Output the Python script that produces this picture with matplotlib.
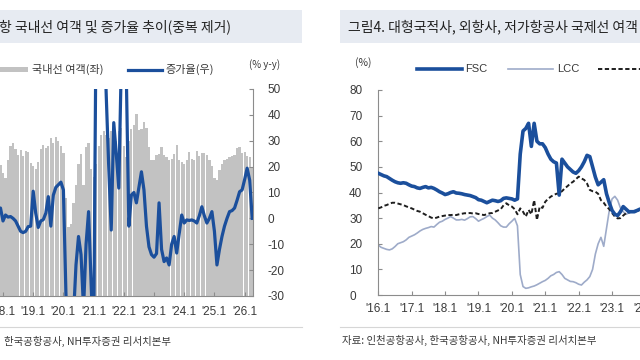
import matplotlib
matplotlib.use('Agg')
import matplotlib.pyplot as plt
from matplotlib import font_manager
from matplotlib.lines import Line2D
from matplotlib.patches import Rectangle

W, H = 640, 360
plt.rcParams['font.family'] = ['Noto Sans CJK KR', 'DejaVu Sans']
_names = {f.name for f in font_manager.fontManager.ttflist}
NUM_FONT = ['Liberation Sans Narrow'] if 'Liberation Sans Narrow' in _names else ['Liberation Sans']

# ---------------- left panel data (month index: 0 = 2018-01) ----------------
dom_months = list(range(-4, 100))
dom_pax = [262, 275, 268, 253,
           238, 228, 262, 290, 296, 285, 272, 282, 270, 280, 278, 257,
           252, 245, 258, 284, 292, 286, 290, 305, 296, 307, 300, 290,
           276, 190, 133, 140, 180, 215, 255, 275, 215, 288, 296, 245,
           230, 255, 290, 311, 318, 312, 305, 318, 322, 300, 318, 325,
           290, 268, 300, 322, 330, 352, 320, 322, 336, 325, 288, 263,
           262, 272, 275, 288, 272, 268, 262, 265, 275, 292, 262, 258,
           256, 262, 278, 265, 262, 280, 270, 276, 276, 272, 262, 252,
           228, 224, 243, 255, 263, 265, 268, 270, 272, 286, 288, 276,
           278, 270, 268, 250]
dom_growth = [3, 5, 2, 4,
              -1, 1.3, 0.5, 0.7, 0, -1, -3, -5, -5.5, -5, -3.2, -3,
              10.5, 2, -3.5, -1, -0.5, 2, 8.4, -3, 9, 12, 13, 14,
              11, -29, -57, -50, -38, -18, -7, -14, -35, -10, 2.6, -25,
              -50, 80, 95, 100, 80, 48, 20, -4.5, 37, 25, 11.7, 60,
              90, 55, -3, 9, 10, 6, 12, 18, 11, -3, -11, -14,
              -15, -13.6, 6, -12, -16.7, -15.3, -18, -10, -7, -13.4, -6, 1.3,
              -1.8, -0.6, -0.8, -0.6, -1, -1.8, 1, 4.5, 1, -1.8, 0, 2.6,
              -5, -18, -12, -7, -3, 0, 2.6, 3, 4, 7, 10.3, 11,
              15, 19.4, 14.8, 0]
left_tick_pos = [0, 12, 24, 36, 48, 60, 72, 84, 96]
left_tick_labels = ["'18.1", "'19.1", "'20.1", "'21.1", "'22.1", "'23.1", "'24.1", "'25.1", "'26.1"]
growth_ticks = [-30, -20, -10, 0, 10, 20, 30, 40, 50]

# ---------------- right panel data (month index: 0 = 2016-01) ----------------
share_months = list(range(0, 96))
fsc = [47.5, 47, 46.5, 46.2, 45.5, 44.8, 44.2, 43.8, 43.6, 43.8,
       43.6, 43, 42.5, 42.3, 41.8, 41.6, 42, 42.3, 41.8, 42,
       41.6, 41, 40.3, 39.8, 39.2, 39.5, 40, 40.3, 39.8, 39.7,
       39.5, 39.2, 39, 38.8, 38.4, 38, 37.2, 37, 36.5, 36,
       36.5, 37, 36.8, 36.5, 36.8, 37.7, 37.9, 37.7, 37.5, 37,
       37.5, 55, 64, 65, 67, 58, 67, 60, 59, 59,
       57.5, 55, 53, 52, 51.5, 39, 53, 51.5, 50, 49,
       48, 47.5, 48.5, 50, 52, 54.5, 54, 50, 46, 43,
       44, 45, 39.5, 36, 33, 31.5, 31, 32.5, 34.5, 33.5,
       32.5, 32.5, 32.5, 33, 33.5, 33.5]
lcc = [19.5, 18.6, 18.2, 17.8, 17.6, 18, 18.9, 20, 20.4, 20.8,
       21.5, 22.5, 23, 23.5, 24.2, 25, 25.6, 26, 26.3, 26.7,
       26.5, 27.5, 28.4, 28.8, 29.5, 30, 30.6, 30, 29.3, 29.3,
       29.5, 29.2, 29.8, 30.5, 30.6, 29.8, 28.8, 29.4, 29.9, 30.6,
       31.2, 30, 29.3, 28.2, 27, 26.5, 26.5, 27.8, 28.8, 29.9,
       27, 8, 3.3, 2.6, 2.8, 3.2, 3.5, 4, 4.6, 5.2,
       5.7, 6.5, 7.5, 8, 8.8, 9.1, 8, 6.5, 5.9, 5.3,
       5.2, 4.8, 4.2, 3.9, 5, 5.9, 7.2, 10, 16, 20,
       22.5, 19, 26, 33, 37.5, 38.5, 37, 34, 32.5, 31.5,
       32, 32.5, 33, 33.2, 33.2, 33]
foreign = [33.8, 34.2, 34.8, 35.1, 35.6, 36, 36, 35.7, 35.4, 35.1,
           34.6, 34.2, 33.8, 33.3, 32.8, 32.5, 31.9, 31.3, 30.8, 30.2,
           29.9, 30.2, 30.6, 30.8, 31, 31.2, 31.2, 31.3, 31.2, 31.5,
           31.7, 31.9, 31.9, 32, 31.8, 31.9, 31.6, 31.4, 31.2, 31.5,
           31.9, 32, 32.5, 33, 33.5, 35, 35.8, 35, 34.5, 33.5,
           31.5, 33.8, 32.5, 30.6, 33.2, 31.5, 37, 29.3, 34.5, 34,
           36.4, 37.5, 38.4, 39, 39.5, 39.7, 40.5, 41.6, 42.5, 43.5,
           44.2, 45.2, 46.2, 45.5, 44.9, 43.5, 41, 40.5, 40.3, 39.5,
           37, 36, 34.5, 33.5, 32, 30.6, 29.9, 30, 31, 31.9,
           32.2, 32.5, 32.5, 32.8, 33.2, 33.2]
right_tick_pos = [0, 12, 24, 36, 48, 60, 72, 84, 96]
right_tick_labels = ["'16.1", "'17.1", "'18.1", "'19.1", "'20.1", "'21.1", "'22.1", "'23.1", "'24.1"]
share_ticks = [0, 10, 20, 30, 40, 50, 60, 70, 80]

# ---------------- styles ----------------
BLUE = '#1b4f9c'
LCC_C = '#9eabc9'
BAR_C = '#c2c2c2'
SPINE = '#8c8c8c'
TXT = '#3a3a3a'
BAND = '#e7ebf2'

fig = plt.figure(figsize=(6.4, 3.6), dpi=100)
fig.patch.set_facecolor('white')


def fx(x):
    return x / W


def fy(y):
    return 1 - y / H


# title bands
fig.add_artist(Rectangle((fx(-5), fy(43)), fx(307), 33 / H, transform=fig.transFigure,
                         facecolor=BAND, edgecolor='none', zorder=0))
fig.add_artist(Rectangle((fx(340), fy(43)), fx(310), 33 / H, transform=fig.transFigure,
                         facecolor=BAND, edgecolor='none', zorder=0))
fig.text(fx(-1), fy(27), '항 국내선 여객 및 증가율 추이(중복 제거)', fontsize=10,
         ha='left', va='center', color='#222222')
fig.text(fx(348), fy(27), '그림4. 대형국적사, 외항사, 저가항공사 국제선 여객 점유율 추이', fontsize=10,
         ha='left', va='center', color='#222222')

# footer lines and sources
fig.add_artist(Line2D([fx(-5), fx(302)], [fy(327), fy(327)], transform=fig.transFigure,
                      color='#d6d6d6', lw=0.8))
fig.add_artist(Line2D([fx(340), fx(645)], [fy(327), fy(327)], transform=fig.transFigure,
                      color='#d6d6d6', lw=0.8))
fig.text(fx(4), fy(341), '한국공항공사, NH투자증권 리서치본부', fontsize=7.5, ha='left', va='center', color=TXT)
fig.text(fx(342), fy(340), '자료: 인천공항공사, 한국공항공사, NH투자증권 리서치본부', fontsize=7.5,
         ha='left', va='center', color=TXT)

# ---------------- left panel ----------------
PXM_L = 2.517
X0_L = 3.0
mlo, mhi = -12, 99.5
lx0 = X0_L + PXM_L * mlo
lx1 = X0_L + PXM_L * mhi
axl = fig.add_axes([fx(lx0), fy(296), fx(lx1 - lx0), (296 - 89) / H])
axl.bar(dom_months, dom_pax, width=0.88, color=BAR_C, linewidth=0, zorder=1)
axl.set_xlim(mlo, mhi)
axl.set_ylim(0, 400)
axl.set_yticks([])
for s in ['top', 'left', 'right']:
    axl.spines[s].set_visible(False)
axl.spines['bottom'].set_color(SPINE)
axl.spines['bottom'].set_linewidth(0.8)
axl.set_xticks(left_tick_pos)
axl.set_xticklabels(left_tick_labels, family=NUM_FONT, fontsize=8.5, color=TXT)
axl.tick_params(axis='x', direction='in', length=3, color=SPINE, pad=7)

axr = axl.twinx()
axr.plot(dom_months, dom_growth, color=BLUE, lw=2.3, solid_joinstyle='round', zorder=3)
axr.set_ylim(-30, 50)
axr.set_yticks(growth_ticks)
axr.set_yticklabels([str(t) for t in growth_ticks], family=NUM_FONT, fontsize=8.5, color=TXT)
axr.tick_params(axis='y', direction='in', length=3, color=SPINE, pad=10)
for s in ['top', 'left', 'bottom']:
    axr.spines[s].set_visible(False)
axr.spines['right'].set_color(SPINE)
axr.spines['right'].set_linewidth(0.8)

# left legend
fig.add_artist(Rectangle((fx(-10), fy(72)), fx(38), 5 / H, transform=fig.transFigure,
                         facecolor=BAR_C, edgecolor='none'))
fig.text(fx(32), fy(69.5), '국내선 여객(좌)', fontsize=8, ha='left', va='center', color=TXT)
fig.add_artist(Line2D([fx(128), fx(162)], [fy(69.5), fy(69.5)], transform=fig.transFigure,
                      color=BLUE, lw=2.3))
fig.text(fx(165), fy(69.5), '증가율(우)', fontsize=8, ha='left', va='center', color=TXT)
fig.text(fx(249), fy(65), '(% y-y)', fontsize=7, ha='left', va='center', color=TXT)

# ---------------- right panel ----------------
PXM_R = 2.783
X0_R = 378.3
rhi = 120
axs = fig.add_axes([fx(X0_R), fy(295), fx(PXM_R * rhi), (295 - 90) / H])
axs.plot(share_months, lcc, color=LCC_C, lw=1.2, zorder=2, label='LCC')
axs.plot(share_months, foreign, color='#1e1e1e', lw=1.4, ls=(0, (2.2, 1.3)), zorder=3, label='외항사')
axs.plot(share_months, fsc, color=BLUE, lw=2.6, zorder=4, label='FSC')
axs.set_xlim(0, rhi)
axs.set_ylim(0, 80)
axs.set_yticks(share_ticks)
axs.set_yticklabels([str(t) for t in share_ticks], family=NUM_FONT, fontsize=8.5, color=TXT)
for lab in axs.get_yticklabels():
    lab.set_ha('left')
axs.tick_params(axis='y', direction='in', length=3, color=SPINE, pad=21)
axs.set_xticks(right_tick_pos)
axs.set_xticklabels(right_tick_labels, family=NUM_FONT, fontsize=8.5, color=TXT)
axs.tick_params(axis='x', direction='in', length=3, color=SPINE, pad=6)
for s in ['top', 'right']:
    axs.spines[s].set_visible(False)
for s in ['left', 'bottom']:
    axs.spines[s].set_color(SPINE)
    axs.spines[s].set_linewidth(0.8)

# right legend
fig.text(fx(355), fy(63), '(%)', fontsize=7.5, ha='left', va='center', color=TXT)
fig.add_artist(Line2D([fx(417), fx(462)], [fy(68.5), fy(68.5)], transform=fig.transFigure,
                      color=BLUE, lw=2.6))
fig.text(fx(465), fy(68.5), 'FSC', fontsize=8, ha='left', va='center', color=TXT, family=NUM_FONT)
fig.add_artist(Line2D([fx(508), fx(553)], [fy(68.5), fy(68.5)], transform=fig.transFigure,
                      color=LCC_C, lw=1.2))
fig.text(fx(557), fy(68.5), 'LCC', fontsize=8, ha='left', va='center', color=TXT, family=NUM_FONT)
fig.add_artist(Line2D([fx(598), fx(660)], [fy(68.5), fy(68.5)], transform=fig.transFigure,
                      color='#1e1e1e', lw=1.4, ls=(0, (2.2, 1.3))))

fig.savefig('out.png', dpi=100)
